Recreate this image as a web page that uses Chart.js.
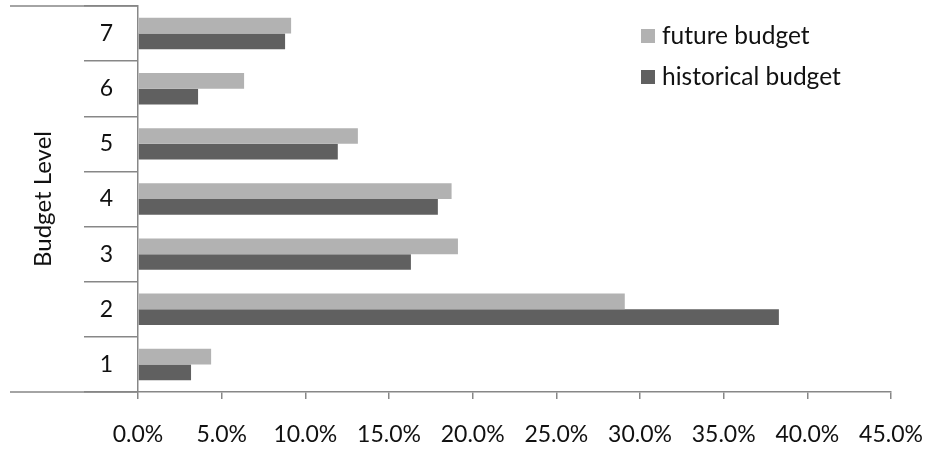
<!DOCTYPE html>
<html>
<head>
<meta charset="utf-8">
<script src="https://cdn.jsdelivr.net/npm/chart.js@4/dist/chart.umd.min.js"></script>
<style>
  html, body { margin: 0; padding: 0; background: #fff; }
  #wrap { position: relative; width: 929px; height: 450px; }
</style>
</head>
<body>
<div id="wrap"><canvas id="chart" width="929" height="450"></canvas></div>
<script>
// Budget levels, bottom (1) to top (7)
const budgetLevels = ['1', '2', '3', '4', '5', '6', '7'];
// Share of budget per level, in percent
const futureBudget = [4.37, 29.09, 19.12, 18.74, 13.14, 6.34, 9.15];
const historicalBudget = [3.17, 38.30, 16.31, 17.92, 11.94, 3.59, 8.79];
const seriesNames = ['future budget', 'historical budget'];
const seriesColors = ['#b2b2b2', '#606060'];
const axisMax = 45;
const axisStep = 5;

const FONT = 'Lato, "Open Sans", "Liberation Sans", sans-serif';
const AXIS_COLOR = '#878787';

// Draws the outer frame lines of the category axis and the legend
const framePlugin = {
  id: 'frame',
  afterDraw(chart) {
    const ctx = chart.ctx;
    const y = chart.scales.y;
    ctx.save();
    ctx.strokeStyle = AXIS_COLOR;
    ctx.lineWidth = 1.5;
    ctx.beginPath();
    ctx.moveTo(10, y.top);
    ctx.lineTo(y.right, y.top);
    ctx.moveTo(10, y.bottom);
    ctx.lineTo(y.right, y.bottom);
    ctx.stroke();

    // legend
    ctx.font = '24.5px ' + FONT;
    ctx.textBaseline = 'middle';
    ctx.textAlign = 'left';
    chart.data.datasets.forEach((ds, i) => {
      const cy = 36 + i * 41;
      ctx.fillStyle = ds.backgroundColor;
      ctx.fillRect(641, cy - 7, 14, 14);
      ctx.fillStyle = '#111';
      ctx.fillText(ds.label, 662, cy);
    });
    ctx.restore();
  }
};

new Chart(document.getElementById('chart'), {
  type: 'bar',
  data: {
    labels: budgetLevels,
    datasets: [
      { label: seriesNames[0], data: futureBudget, backgroundColor: seriesColors[0] },
      { label: seriesNames[1], data: historicalBudget, backgroundColor: seriesColors[1] }
    ]
  },
  options: {
    indexAxis: 'y',
    responsive: false,
    animation: false,
    layout: { padding: { top: 6, right: 38, left: 0, bottom: 0 } },
    datasets: { bar: { categoryPercentage: 0.57, barPercentage: 1.0 } },
    plugins: { legend: { display: false }, tooltip: { enabled: false } },
    scales: {
      x: {
        min: 0,
        max: axisMax,
        ticks: {
          stepSize: axisStep,
          callback: v => v.toFixed(1) + '%',
          font: { family: FONT, size: 23 },
          color: '#111',
          padding: 22,
          maxRotation: 0
        },
        grid: { drawOnChartArea: false, tickLength: 7, color: AXIS_COLOR, lineWidth: 1.5 },
        border: { display: true, color: AXIS_COLOR, width: 1.5 },
        afterFit(scale) {
          scale.height = 58;
          scale.paddingLeft = 0;
          scale.paddingRight = 0;
        }
      },
      y: {
        reverse: true,
        ticks: {
          font: { family: FONT, size: 23 },
          color: '#111',
          padding: -29
        },
        grid: { drawOnChartArea: false, tickLength: 54, color: AXIS_COLOR, lineWidth: 1.5 },
        border: { display: true, color: AXIS_COLOR, width: 1.5 },
        title: {
          display: true,
          text: 'Budget Level',
          font: { family: FONT, size: 24 },
          color: '#111',
          padding: { top: 28.6, bottom: 0 }
        },
        afterFit(scale) {
          scale.width = 138;
          scale.paddingTop = 0;
          scale.paddingBottom = 0;
        }
      }
    }
  },
  plugins: [framePlugin]
});
</script>
</body>
</html>
